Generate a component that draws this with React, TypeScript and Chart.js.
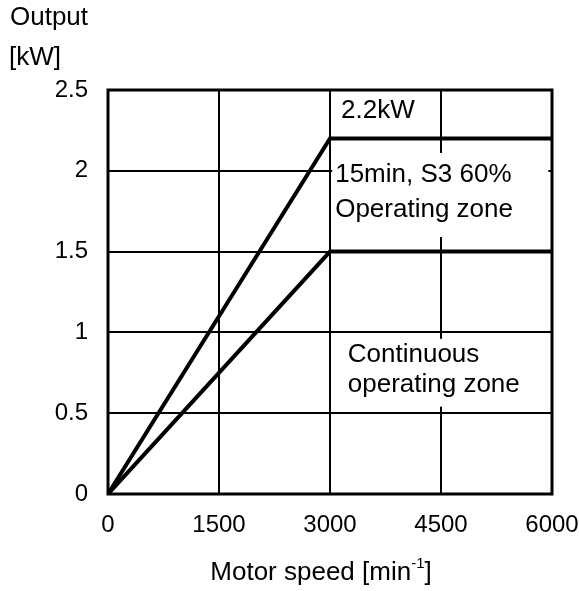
import React, { useEffect, useRef } from "react";
import { Chart, registerables } from "chart.js";

Chart.register(...registerables);

// ---- data ----
const motorSpeed = [0, 3000, 6000];
const shortTimeOutput = [0, 2.2, 2.2];
const continuousOutput = [0, 1.5, 1.5];
const xTickValues = [0, 1500, 3000, 4500, 6000];
const yTickValues = [0, 0.5, 1, 1.5, 2, 2.5];
const yAxisTitle = ["Output", "[kW]"];
const xAxisTitle = "Motor speed [min";
const xAxisTitleSup = "-1";
const xAxisTitleEnd = "]";
const ratedLabel = "2.2kW";
const shortZoneLabel = ["15min, S3 60%", "Operating zone"];
const contZoneLabel = ["Continuous", "operating zone"];

const FONT = "'Liberation Sans', Arial, sans-serif";

const overlayPlugin = {
  id: "overlay",
  beforeDatasetsDraw(chart: any) {
    const { ctx, scales } = chart;
    const xs = scales.x;
    const ys = scales.y;
    ctx.save();
    ctx.fillStyle = "#ffffff";
    let x0 = xs.getPixelForValue(3030);
    let x1 = xs.getPixelForValue(5950);
    let y0 = ys.getPixelForValue(2.11);
    let y1 = ys.getPixelForValue(1.59);
    ctx.fillRect(x0, y0, x1 - x0, y1 - y0);
    x0 = xs.getPixelForValue(3150);
    x1 = xs.getPixelForValue(5970);
    y0 = ys.getPixelForValue(0.96);
    y1 = ys.getPixelForValue(0.54);
    ctx.fillRect(x0, y0, x1 - x0, y1 - y0);
    ctx.restore();
  },
  afterDatasetsDraw(chart: any) {
    const { ctx, scales, chartArea } = chart;
    const xs = scales.x;
    const ys = scales.y;
    ctx.save();
    ctx.fillStyle = "#000";
    ctx.textBaseline = "middle";
    ctx.textAlign = "left";
    ctx.font = `26px ${FONT}`;
    ctx.fillText(ratedLabel, xs.getPixelForValue(3150), ys.getPixelForValue(2.37));
    ctx.fillText(shortZoneLabel[0], xs.getPixelForValue(3070), ys.getPixelForValue(1.975));
    ctx.fillText(shortZoneLabel[1], xs.getPixelForValue(3070), ys.getPixelForValue(1.757));
    ctx.fillText(contZoneLabel[0], xs.getPixelForValue(3240), ys.getPixelForValue(0.86));
    ctx.fillText(contZoneLabel[1], xs.getPixelForValue(3240), ys.getPixelForValue(0.675));

    ctx.strokeStyle = "#000";
    ctx.lineWidth = 3;
    ctx.strokeRect(chartArea.left, chartArea.top, chartArea.right - chartArea.left, chartArea.bottom - chartArea.top);

    ctx.font = `26px ${FONT}`;
    ctx.fillText(yAxisTitle[0], 10, 18);
    ctx.fillText(yAxisTitle[1], 9, 58);

    const main = `26px ${FONT}`;
    const sup = `15px ${FONT}`;
    ctx.font = main;
    const w1 = ctx.measureText(xAxisTitle).width;
    const w3 = ctx.measureText(xAxisTitleEnd).width;
    ctx.font = sup;
    const w2 = ctx.measureText(xAxisTitleSup).width;
    const total = w1 + w2 + w3;
    let x = 321 - total / 2;
    const y = 573;
    ctx.font = main;
    ctx.fillText(xAxisTitle, x, y);
    x += w1;
    ctx.font = sup;
    ctx.fillText(xAxisTitleSup, x, y - 9);
    x += w2;
    ctx.font = main;
    ctx.fillText(xAxisTitleEnd, x, y);
    ctx.restore();
  },
};

export default function App() {
  const ref = useRef<HTMLCanvasElement | null>(null);
  useEffect(() => {
    document.body.style.margin = "0";
    const canvas = ref.current!;
    const chart = new Chart(canvas, {
      type: "scatter",
      data: {
        datasets: [
          {
            label: "S3 60%",
            data: motorSpeed.map((s, i) => ({ x: s, y: shortTimeOutput[i] })),
            showLine: true,
            borderColor: "#000",
            borderWidth: 4,
            pointRadius: 0,
            fill: false,
          },
          {
            label: "Continuous",
            data: motorSpeed.map((s, i) => ({ x: s, y: continuousOutput[i] })),
            showLine: true,
            borderColor: "#000",
            borderWidth: 4,
            pointRadius: 0,
            fill: false,
          },
        ],
      },
      options: {
        responsive: false,
        animation: false,
        devicePixelRatio: 1,
        layout: { padding: { left: 0, top: 90, right: 27, bottom: 0 } },
        plugins: { legend: { display: false }, tooltip: { enabled: false } },
        scales: {
          x: {
            type: "linear",
            min: 0,
            max: 6000,
            afterFit: (s: any) => {
              s.height = 97;
              s.paddingLeft = 0;
              s.paddingRight = 0;
            },
            afterBuildTicks: (s: any) => {
              s.ticks = xTickValues.map((v) => ({ value: v }));
            },
            ticks: {
              padding: 17,
              color: "#000",
              font: { family: FONT, size: 24 },
              callback: (v: any) => String(v),
              maxRotation: 0,
            },
            grid: { color: "#000", lineWidth: 2, drawTicks: false },
            border: { display: false },
          },
          y: {
            type: "linear",
            min: 0,
            max: 2.5,
            afterFit: (s: any) => {
              s.width = 108;
              s.paddingTop = 0;
              s.paddingBottom = 0;
            },
            afterBuildTicks: (s: any) => {
              s.ticks = yTickValues.map((v) => ({ value: v }));
            },
            ticks: {
              padding: 20,
              color: "#000",
              font: { family: FONT, size: 24 },
              callback: (v: any) => String(v),
            },
            grid: { color: "#000", lineWidth: 2, drawTicks: false },
            border: { display: false },
          },
        },
      },
      plugins: [overlayPlugin],
    } as any);
    return () => chart.destroy();
  }, []);
  return (
    <div style={{ width: 579, height: 591 }}>
      <canvas ref={ref} width={579} height={591} style={{ display: "block" }} />
    </div>
  );
}
